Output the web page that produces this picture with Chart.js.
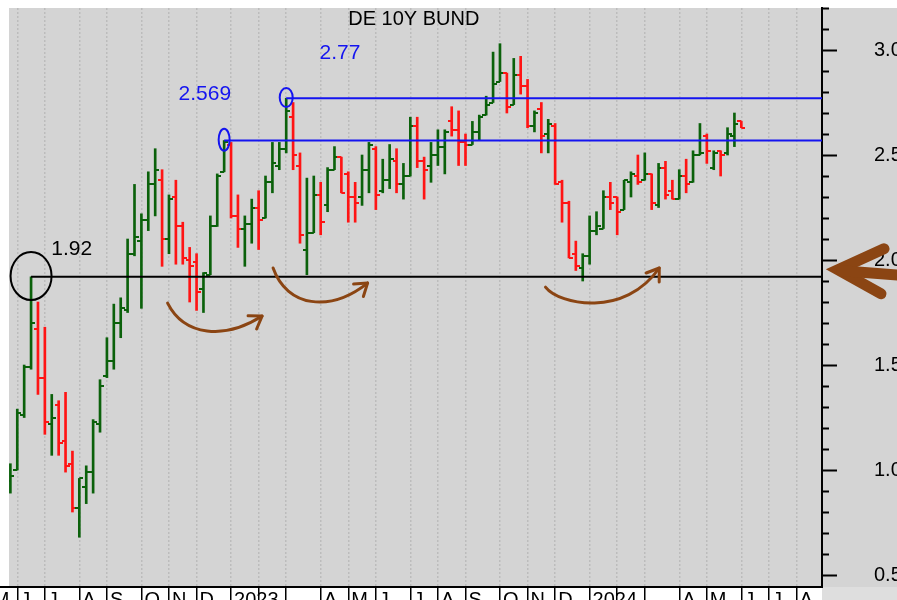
<!DOCTYPE html>
<html>
<head>
<meta charset="utf-8">
<script src="https://cdn.jsdelivr.net/npm/chart.js@4.4.1/dist/chart.umd.min.js"></script>
<style>
  html, body { margin: 0; padding: 0; background: #fff; }
</style>
</head>
<body>
<canvas id="bund" width="897" height="600"></canvas>
<script>
// ── Datos semanales DE 10Y (viernes, desde 27 may 2022) ──────────
const opens  = [0.95,1.00,1.26,1.49,1.67,1.44,1.22,1.31,1.14,1.03,0.82,0.92,0.99,1.22,1.45,1.52,1.70,1.76,2.03,2.09,
                2.19,2.36,2.38,2.10,2.30,2.16,2.00,1.99,1.86,1.93,2.16,2.42,2.55,2.21,2.15,2.17,2.25,2.20,2.37,2.45,
                2.53,2.68,2.45,2.05,2.13,2.31,2.26,2.43,2.49,2.41,2.30,2.30,2.43,2.53,2.33,2.38,2.47,2.36,2.40,2.64,
                2.47,2.45,2.50,2.54,2.66,2.62,2.56,2.55,2.61,2.69,2.75,2.85,2.89,2.74,2.88,2.83,2.64,2.72,2.60,2.64,
                2.37,2.27,2.03,1.96,2.02,2.14,2.15,2.30,2.30,2.24,2.37,2.40,2.38,2.41,2.26,2.44,2.33,2.29,2.40,2.37,
                2.50,2.59,2.44,2.52,2.51,2.59,2.66];
const highs  = [1.03,1.29,1.50,1.92,1.80,1.68,1.36,1.33,1.37,1.09,0.96,1.02,1.24,1.43,1.63,1.79,1.82,2.10,2.36,2.22,
                2.42,2.53,2.43,2.31,2.38,2.18,2.06,2.03,1.94,2.21,2.41,2.569,2.56,2.31,2.21,2.29,2.33,2.40,2.56,2.56,
                2.77,2.75,2.51,2.39,2.40,2.37,2.44,2.54,2.49,2.42,2.37,2.50,2.56,2.54,2.48,2.55,2.53,2.46,2.68,2.68,
                2.49,2.56,2.62,2.62,2.73,2.71,2.60,2.66,2.69,2.78,2.99,3.03,2.89,2.96,2.97,2.86,2.71,2.75,2.67,2.65,
                2.38,2.28,2.09,2.03,2.21,2.23,2.33,2.37,2.30,2.38,2.42,2.50,2.51,2.41,2.46,2.47,2.38,2.43,2.48,2.52,
                2.65,2.60,2.52,2.52,2.63,2.70,2.66];
const lows   = [0.89,1.00,1.25,1.48,1.36,1.17,1.07,1.07,0.99,0.80,0.68,0.84,0.89,1.18,1.44,1.48,1.63,1.75,2.02,1.77,
                2.14,2.21,1.97,2.03,1.98,1.98,1.80,1.76,1.75,1.93,2.16,2.42,2.20,2.06,1.97,2.08,2.05,2.20,2.32,2.43,
                2.51,2.43,2.08,1.93,2.13,2.12,2.23,2.43,2.32,2.18,2.18,2.26,2.32,2.24,2.32,2.34,2.32,2.29,2.40,2.44,
                2.29,2.37,2.45,2.41,2.59,2.45,2.45,2.55,2.57,2.69,2.75,2.85,2.70,2.74,2.79,2.63,2.61,2.51,2.51,2.36,
                2.18,2.01,1.95,1.90,1.98,2.12,2.15,2.24,2.12,2.24,2.30,2.36,2.38,2.24,2.25,2.29,2.29,2.29,2.32,2.37,
                2.50,2.46,2.43,2.40,2.50,2.54,2.63];
const closes = [0.97,1.27,1.49,1.70,1.44,1.23,1.25,1.13,1.02,0.82,0.96,0.99,1.23,1.40,1.52,1.70,1.77,2.03,2.11,2.19,
                2.36,2.43,2.10,2.29,2.16,2.01,1.97,1.85,1.94,2.16,2.40,2.56,2.21,2.15,2.17,2.25,2.19,2.37,2.46,2.53,
                2.71,2.50,2.12,2.13,2.31,2.18,2.43,2.49,2.32,2.30,2.27,2.43,2.55,2.31,2.38,2.48,2.36,2.40,2.64,2.47,
                2.43,2.50,2.54,2.61,2.62,2.56,2.55,2.61,2.68,2.74,2.84,2.89,2.73,2.88,2.83,2.64,2.70,2.59,2.65,2.36,
                2.27,2.01,1.97,2.02,2.14,2.16,2.30,2.27,2.23,2.38,2.41,2.37,2.41,2.27,2.44,2.31,2.29,2.40,2.36,2.50,
                2.51,2.52,2.51,2.50,2.60,2.65,2.63];

// primera semana de cada mes (índice de barra) y su etiqueta
const monthStarts = [-3, 1, 5, 10, 14, 19, 23, 27, 32, 36, 40, 45, 49, 53, 58, 62, 66, 71, 75, 79, 84, 88, 92, 97, 101, 106, 110, 114];
const monthLabels = ['M','J','J','A','S','O','N','D','2023','','','A','M','J','J','A','S','O','N','D','2024','','','A','M','J','J','A'];
const yLabels = [0.5, 1.0, 1.5, 2.0, 2.5, 3.0];

// niveles marcados
const levelValues = [1.92, 2.569, 2.77];
const levelFrom   = [3, 31, 40];
const levelTexts  = ['1.92', '2.569', '2.77'];

const X_MIN = -0.2, X_MAX = 117.7;
const UP = '#0b610b', DOWN = '#ff1414', BLUE = '#1414f0', BROWN = '#8b4513';

Chart.defaults.font.family = '"Liberation Sans", Arial, sans-serif';

const isUp = i => closes[i] >= opens[i];
const weeks = opens.map((_, i) => i);

// marcas de apertura / cierre
function tickImg(color, side) {
    const c = document.createElement('canvas');
    c.width = 8; c.height = 2;
    const g = c.getContext('2d');
    g.fillStyle = color;
    g.fillRect(side === 'left' ? 0 : 4, 0, 4, 2);
    return c;
}
const openUp = tickImg(UP, 'left'), openDn = tickImg(DOWN, 'left');
const closeUp = tickImg(UP, 'right'), closeDn = tickImg(DOWN, 'right');

const yTicks = [];
for (let k = 5; k <= 32; k++) yTicks.push(k / 10);
const isMajor = v => yLabels.some(m => Math.abs(m - v) < 1e-6);

// ── Fondo ─────────────────────────────────────────────────────────
const bgPlugin = {
    id: 'bg',
    beforeDraw(chart) {
        const { ctx, chartArea: a, width, height } = chart;
        ctx.save();
        ctx.fillStyle = '#fff'; ctx.fillRect(0, 0, width, height);
        ctx.fillStyle = '#d4d4d4'; ctx.fillRect(a.left, a.top, width - a.left, a.bottom - a.top);
        ctx.fillStyle = '#dedede'; ctx.fillRect(a.right, a.bottom, width - a.right, height - a.bottom);
        ctx.restore();
    }
};

// ── Anotaciones (textos, círculos, flechas) ───────────────────────
function curveArrow(ctx, x, y, pts, color) {
    const p = pts.map(q => [x.getPixelForValue(q[0]), y.getPixelForValue(q[1])]);
    ctx.strokeStyle = color; ctx.lineWidth = 3; ctx.lineCap = 'round';
    ctx.beginPath();
    ctx.moveTo(p[0][0], p[0][1]);
    ctx.bezierCurveTo(p[1][0], p[1][1], p[2][0], p[2][1], p[3][0], p[3][1]);
    ctx.stroke();
    const ang = Math.atan2(p[3][1] - p[2][1], p[3][0] - p[2][0]);
    ctx.beginPath();
    [-0.6, 0.6].forEach(d => {
        ctx.moveTo(p[3][0], p[3][1]);
        ctx.lineTo(p[3][0] - 14 * Math.cos(ang + d), p[3][1] - 14 * Math.sin(ang + d));
    });
    ctx.stroke();
}

const annoPlugin = {
    id: 'anno',
    afterDraw(chart) {
        const { ctx, chartArea: a } = chart;
        const x = chart.scales.x, y = chart.scales.y;
        ctx.save();
        ctx.textAlign = 'center'; ctx.textBaseline = 'middle';

        ctx.fillStyle = '#000';
        ctx.font = '20px "Liberation Sans", Arial, sans-serif';
        ctx.fillText('DE 10Y BUND', x.getPixelForValue(58.5), y.getPixelForValue(3.143));

        ctx.font = '21px "Liberation Sans", Arial, sans-serif';
        ctx.fillText(levelTexts[0], x.getPixelForValue(8.9), y.getPixelForValue(2.052));
        ctx.fillStyle = BLUE;
        ctx.fillText(levelTexts[1], x.getPixelForValue(28.2), y.getPixelForValue(2.79));
        ctx.fillText(levelTexts[2], x.getPixelForValue(47.8), y.getPixelForValue(2.986));

        // círculos sobre los máximos
        const rings = [[0, 20.5, 24, '#000'], [1, 5.5, 11, BLUE], [2, 6.5, 9.5, BLUE]];
        rings.forEach(([k, rx, ry, col]) => {
            ctx.strokeStyle = col; ctx.lineWidth = 2;
            ctx.beginPath();
            ctx.ellipse(x.getPixelForValue(levelFrom[k]), y.getPixelForValue(levelValues[k]) - 0.8, rx, ry, 0, 0, Math.PI * 2);
            ctx.stroke();
        });

        // flechas curvas marrones
        curveArrow(ctx, x, y, [[22.8, 1.795], [25.2, 1.638], [31.1, 1.619], [36.5, 1.733]], BROWN);
        curveArrow(ctx, x, y, [[38.1, 1.962], [40.1, 1.776], [46.3, 1.748], [51.8, 1.890]], BROWN);
        curveArrow(ctx, x, y, [[77.6, 1.871], [79.6, 1.786], [89.1, 1.724], [94.1, 1.962]], BROWN);

        // flecha grande a la derecha
        const ty = y.getPixelForValue(levelValues[0]), tx = a.right + 16;
        ctx.strokeStyle = BROWN; ctx.lineWidth = 11; ctx.lineCap = 'round'; ctx.lineJoin = 'miter';
        ctx.beginPath();
        ctx.moveTo(tx + 46, ty - 28); ctx.lineTo(tx, ty - 7); ctx.lineTo(tx + 43, ty + 17);
        ctx.stroke();
        ctx.beginPath();
        ctx.moveTo(tx + 4, ty - 6); ctx.lineTo(tx + 70, ty - 1);
        ctx.stroke();

        // prolongación de la línea base
        ctx.strokeStyle = '#000'; ctx.lineWidth = 2;
        ctx.beginPath(); ctx.moveTo(0, a.bottom); ctx.lineTo(a.left, a.bottom); ctx.stroke();
        ctx.restore();
    }
};

// ── Gráfico OHLC ──────────────────────────────────────────────────
new Chart(document.getElementById('bund'), {
    type: 'scatter',
    data: {
        datasets: [
            ...levelValues.map((v, k) => ({
                type: 'line',
                data: [{ x: levelFrom[k], y: v }, { x: X_MAX, y: v }],
                borderColor: k === 0 ? '#000' : BLUE, borderWidth: 2,
                pointRadius: 0, order: 0,
            })),
            {
                data: weeks.map(i => ({ x: i, y: opens[i] })),
                pointStyle: weeks.map(i => isUp(i) ? openUp : openDn),
                pointRadius: 2, order: 1,
            },
            {
                data: weeks.map(i => ({ x: i, y: closes[i] })),
                pointStyle: weeks.map(i => isUp(i) ? closeUp : closeDn),
                pointRadius: 2, order: 1,
            },
            {
                type: 'bar',
                data: weeks.map(i => ({ x: i, y: [lows[i], highs[i]] })),
                backgroundColor: weeks.map(i => isUp(i) ? UP : DOWN),
                barThickness: 2, grouped: false, borderWidth: 0, order: 2,
            },
        ]
    },
    options: {
        responsive: false, animation: false, events: [],
        layout: { padding: { left: 9, top: 8, right: 0, bottom: 0 } },
        plugins: { legend: { display: false }, tooltip: { enabled: false } },
        scales: {
            x: {
                type: 'linear', min: X_MIN, max: X_MAX, offset: false,
                afterBuildTicks: s => { s.ticks = monthStarts.map(v => ({ value: v })); },
                afterFit: s => { s.height = 13; s.paddingLeft = 0; s.paddingRight = 0; },
                border: { color: '#000', width: 2, dash: [2, 2] },
                grid: {
                    offset: false, color: '#bcbcbc', lineWidth: 1.5,
                    tickLength: 14, tickColor: '#000', tickWidth: 1.5, tickBorderDash: [],
                },
                ticks: {
                    autoSkip: false, maxRotation: 0, align: 'start', labelOffset: 3, padding: -13,
                    color: '#000', font: { size: 20 },
                    callback: (v, i) => monthLabels[i],
                }
            },
            y: {
                position: 'right', min: 0.443, max: 3.2,
                afterBuildTicks: s => { s.ticks = yTicks.map(v => ({ value: v })); },
                afterFit: s => { s.width = 75; s.paddingTop = 0; s.paddingBottom = 0; },
                border: { color: '#000', width: 2 },
                grid: {
                    drawOnChartArea: false, tickLength: 15, tickColor: '#000', tickWidth: 2,
                    tickBorderDash: ctx => isMajor(ctx.tick.value) ? [] : [6, 40],
                },
                ticks: {
                    autoSkip: false, padding: 37, color: '#000', font: { size: 20 },
                    callback: v => isMajor(v) ? v.toFixed(1) : '',
                }
            }
        }
    },
    plugins: [bgPlugin, annoPlugin]
});
</script>
</body>
</html>
